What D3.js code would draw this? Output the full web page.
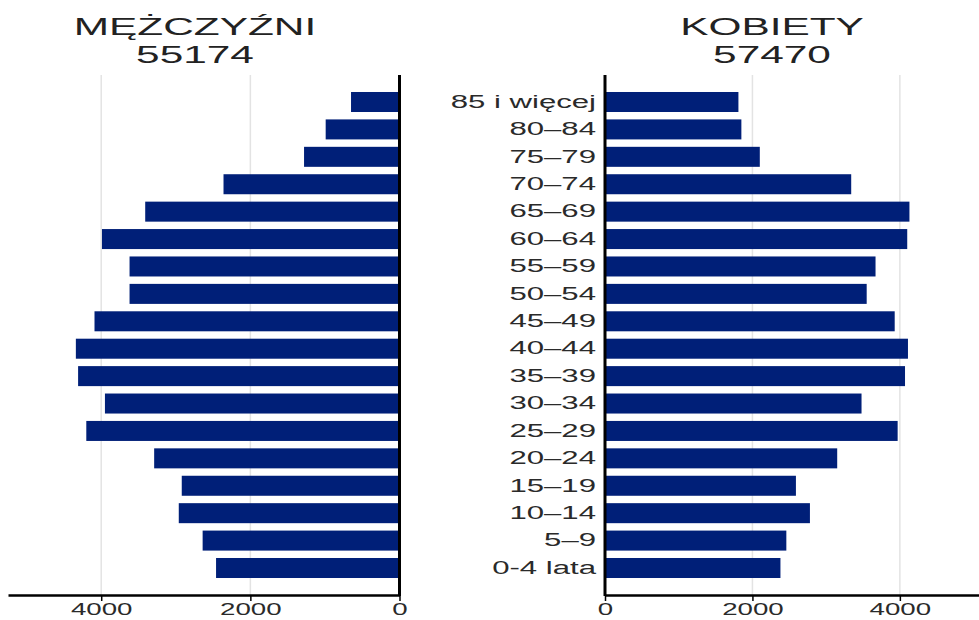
<!DOCTYPE html>
<html>
<head>
<meta charset="utf-8">
<script src="https://cdn.jsdelivr.net/npm/d3@7"></script>
<style>
  body { margin: 0; background: #fff; }
  svg { display: block; font-family: "Liberation Sans", Arial, sans-serif; }
</style>
</head>
<body>
<svg width="979" height="620"></svg>
<script>
// age groups, top to bottom
var ages = ["85 i więcej", "80–84", "75–79", "70–74", "65–69", "60–64", "55–59", "50–54",
    "45–49", "40–44", "35–39", "30–34", "25–29", "20–24", "15–19", "10–14", "5–9", "0-4 lata"];
var men = [650, 990, 1280, 2360, 3410, 3990, 3620, 3620, 4090, 4340, 4310, 3950, 4200, 3290, 2920, 2960, 2640, 2460];
var women = [1810, 1850, 2100, 3340, 4130, 4100, 3670, 3550, 3930, 4110, 4070, 3480, 3970, 3150, 2590, 2780, 2460, 2380];
var xTicks = [0, 2000, 4000];
var titles = ["MĘŻCZYŹNI", "KOBIETY"];
var totals = ["55174", "57470"];

var svg = d3.select("svg"),
    top0 = 75,
    bottom0 = 595,
    stretch = 1.73,   // the picture is wide, text too
    barColor = "#001f78";

var y = d3.scaleBand()
    .domain(ages)
    .range([top0, bottom0])
    .paddingInner(0.27)
    .paddingOuter(0.62);

var xL = d3.scaleLinear().domain([0, 5250]).range([399.5, 8]),
    xR = d3.scaleLinear().domain([0, 5250]).range([605, 992]);

// grid lines
[xL, xR].forEach(function(x) {
    svg.append("g")
        .selectAll("line")
        .data(xTicks.slice(1))
        .join("line")
        .attr("x1", function(d) { return x(d); })
        .attr("x2", function(d) { return x(d); })
        .attr("y1", top0)
        .attr("y2", bottom0)
        .attr("stroke", "#e3e3e3")
        .attr("stroke-width", 1.5);
});

// bars
svg.append("g")
    .selectAll("rect")
    .data(men)
    .join("rect")
    .attr("x", function(d) { return xL(d); })
    .attr("y", function(d, i) { return y(ages[i]); })
    .attr("width", function(d) { return xL(0) - xL(d); })
    .attr("height", y.bandwidth())
    .attr("fill", barColor);

svg.append("g")
    .selectAll("rect")
    .data(women)
    .join("rect")
    .attr("x", xR(0))
    .attr("y", function(d, i) { return y(ages[i]); })
    .attr("width", function(d) { return xR(d) - xR(0); })
    .attr("height", y.bandwidth())
    .attr("fill", barColor);

// bottom axes
function bottomAxis(x) {
    var g = svg.append("g")
        .attr("transform", "translate(0," + bottom0 + ")")
        .call(d3.axisBottom(x).tickValues(xTicks).tickFormat(d3.format("d"))
            .tickSize(6).tickSizeOuter(0).tickPadding(3));
    g.select(".domain").attr("stroke", "#000").attr("stroke-width", 2.5);
    g.selectAll(".tick line").attr("stroke", "#000").attr("stroke-width", 1.5);
    g.selectAll(".tick text")
        .attr("font-size", 16)
        .attr("font-family", "Liberation Sans, Arial, sans-serif")
        .attr("fill", "#2a2a2a")
        .attr("transform", "scale(" + stretch + ",1)");
    return g;
}
bottomAxis(xL);
bottomAxis(xR);

// zero lines
[xL(0), xR(0)].forEach(function(x0) {
    svg.append("line")
        .attr("x1", x0).attr("x2", x0)
        .attr("y1", top0).attr("y2", bottom0 + 1)
        .attr("stroke", "#000")
        .attr("stroke-width", 3);
});

// age labels
var ageAxis = svg.append("g")
    .attr("transform", "translate(" + xR(0) + ",0)")
    .call(d3.axisLeft(y).tickSize(0).tickPadding(0));
ageAxis.select(".domain").remove();
ageAxis.selectAll(".tick text")
    .attr("x", -9 / stretch)
    .attr("font-size", 18)
    .attr("font-family", "Liberation Sans, Arial, sans-serif")
    .attr("fill", "#2a2a2a")
    .attr("transform", "scale(" + stretch + ",1)");

// titles
var titleX = [195, 772];
titles.forEach(function(t, i) {
    var g = svg.append("g")
        .attr("transform", "translate(" + titleX[i] + ",0) scale(" + stretch + ",1)")
        .attr("text-anchor", "middle")
        .attr("font-size", 24.5)
        .attr("fill", "#222");
    g.append("text").attr("y", 35).text(t);
    g.append("text").attr("y", 63).text(totals[i]);
});
</script>
</body>
</html>
